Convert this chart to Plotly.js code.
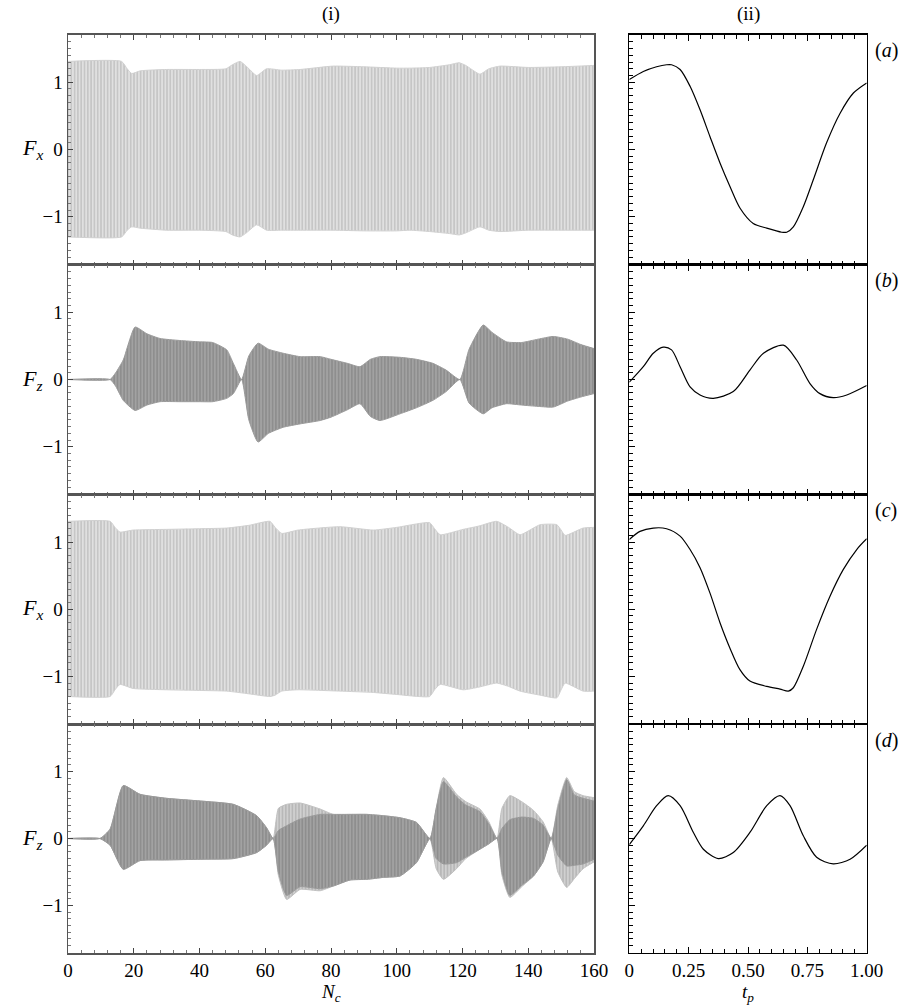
<!DOCTYPE html>
<html>
<head>
<meta charset="utf-8">
<script src="https://cdn.plot.ly/plotly-3.0.1.min.js"></script>
<style>html,body{margin:0;padding:0;background:#fff;}#plot{width:905px;height:1007px;}</style>
</head>
<body>
<div id="plot"></div>
<script>
// ---------- (i) envelopes of the force histories vs N_c ----------
const fx1_N     = [0,16.3,18,19.4,22,30,40,48,50,52.3,54,57.4,60.4,65,70.6,80.6,90,100,104,110,116,119,121,125.3,128,131.4,140,150,160];
const fx1_upper = [1.31,1.31,1.2,1.13,1.17,1.19,1.19,1.2,1.26,1.31,1.25,1.10,1.2,1.18,1.19,1.24,1.23,1.21,1.21,1.22,1.26,1.29,1.25,1.12,1.2,1.24,1.22,1.23,1.25];
const fx1_lower = [-1.30,-1.30,-1.2,-1.15,-1.17,-1.2,-1.2,-1.22,-1.27,-1.3,-1.25,-1.12,-1.2,-1.2,-1.2,-1.2,-1.21,-1.21,-1.2,-1.22,-1.25,-1.27,-1.24,-1.15,-1.2,-1.22,-1.2,-1.2,-1.2];

const fz2_N     = [0,12.8,14.5,16.8,20.4,24,28,34,40,44,48.3,50.3,52.8,55,57.8,61,65.5,70.6,76.7,80,85,88.8,92,94.9,101,106,111,115,119.2,122,126.3,129,133.4,138,143,147.6,152,156,160];
const fz2_upper = [0,0,0.1,0.29,0.78,0.68,0.61,0.58,0.56,0.55,0.44,0.24,0,0.35,0.54,0.45,0.39,0.34,0.34,0.3,0.24,0.19,0.3,0.34,0.33,0.3,0.24,0.14,0,0.45,0.81,0.7,0.56,0.55,0.6,0.64,0.6,0.52,0.46];
const fz2_lower = [0,0,-0.1,-0.31,-0.46,-0.38,-0.33,-0.33,-0.33,-0.33,-0.28,-0.21,0,-0.6,-0.93,-0.8,-0.71,-0.66,-0.61,-0.56,-0.45,-0.36,-0.55,-0.61,-0.51,-0.42,-0.31,-0.18,0,-0.35,-0.51,-0.42,-0.36,-0.38,-0.4,-0.41,-0.32,-0.26,-0.21];

const fx3_N     = [0,12.8,14.3,15.8,19.8,30,40,48.3,55,61.4,63,65,70,82.7,92.9,100,110,111.5,113.2,120.2,125,130.4,134,137.5,143.6,148.7,150,151.2,156.7,160];
const fx3_upper = [1.31,1.31,1.22,1.15,1.18,1.19,1.2,1.21,1.25,1.31,1.22,1.13,1.18,1.23,1.18,1.22,1.29,1.2,1.11,1.19,1.24,1.31,1.22,1.11,1.26,1.26,1.18,1.1,1.21,1.22];
const fx3_lower = [-1.30,-1.30,-1.2,-1.12,-1.18,-1.2,-1.21,-1.22,-1.26,-1.30,-1.28,-1.22,-1.2,-1.22,-1.24,-1.27,-1.30,-1.2,-1.12,-1.2,-1.16,-1.10,-1.15,-1.22,-1.28,-1.32,-1.2,-1.10,-1.22,-1.22];

const fz4_N           = [0,9.7,12.8,16.8,21.9,30,40.2,50.3,57.4,60.4,62.4,64,66.5,70.6,76.7,80.7,85.8,90.9,96,101,106,110.1,112,114.2,118.2,121,125.3,128,130.5,132,134.4,138,141.6,144.5,147,149,151.7,154,156.7,160];
const fz4_upper_inner = [0,0,0.14,0.79,0.66,0.6,0.56,0.51,0.34,0.16,0,0.12,0.19,0.29,0.36,0.36,0.36,0.36,0.34,0.31,0.24,0,0.45,0.85,0.62,0.5,0.4,0.22,0,0.15,0.28,0.32,0.3,0.2,0,0.45,0.88,0.65,0.6,0.56];
const fz4_lower_inner = [0,0,-0.1,-0.46,-0.33,-0.32,-0.31,-0.30,-0.21,-0.1,0,-0.5,-0.85,-0.72,-0.75,-0.71,-0.62,-0.61,-0.58,-0.56,-0.36,0,-0.3,-0.38,-0.36,-0.28,-0.16,-0.08,0,-0.5,-0.85,-0.7,-0.56,-0.35,0,-0.25,-0.41,-0.4,-0.38,-0.31];
const fz4_upper_outer = [0,0,0.14,0.79,0.66,0.6,0.56,0.51,0.34,0.16,0,0.45,0.51,0.53,0.44,0.36,0.36,0.36,0.34,0.31,0.24,0,0.45,0.91,0.66,0.55,0.44,0.25,0,0.45,0.64,0.55,0.42,0.25,0,0.5,0.91,0.7,0.64,0.61];
const fz4_lower_outer = [0,0,-0.1,-0.46,-0.33,-0.32,-0.31,-0.30,-0.21,-0.1,0,-0.55,-0.91,-0.76,-0.78,-0.71,-0.62,-0.61,-0.58,-0.56,-0.36,0,-0.45,-0.61,-0.45,-0.3,-0.16,-0.08,0,-0.55,-0.88,-0.72,-0.56,-0.35,0,-0.5,-0.73,-0.6,-0.45,-0.35];

// ---------- (ii) one period vs t_p ----------
const a_t = [0,0.059,0.115,0.157,0.178,0.214,0.256,0.298,0.34,0.382,0.424,0.466,0.522,0.579,0.642,0.663,0.691,0.733,0.775,0.831,0.888,0.944,1.0];
const a_F = [1.04,1.16,1.23,1.26,1.26,1.19,0.94,0.59,0.19,-0.20,-0.55,-0.87,-1.10,-1.17,-1.23,-1.23,-1.15,-0.85,-0.45,0.10,0.54,0.84,0.99];

const b_t = [0,0.059,0.101,0.143,0.178,0.214,0.256,0.298,0.354,0.438,0.508,0.565,0.649,0.705,0.761,0.803,0.859,0.916,1.0];
const b_F = [-0.04,0.19,0.39,0.48,0.44,0.19,-0.11,-0.23,-0.28,-0.18,0.14,0.39,0.51,0.29,-0.06,-0.21,-0.27,-0.23,-0.09];

const c_t = [0,0.045,0.101,0.157,0.214,0.256,0.298,0.34,0.382,0.424,0.466,0.508,0.579,0.635,0.67,0.691,0.733,0.789,0.845,0.901,0.958,1.0];
const c_F = [1.04,1.16,1.21,1.20,1.09,0.89,0.62,0.24,-0.20,-0.58,-0.90,-1.07,-1.15,-1.19,-1.22,-1.17,-0.85,-0.30,0.19,0.59,0.89,1.05];

const d_t = [0,0.059,0.115,0.164,0.214,0.27,0.312,0.375,0.438,0.508,0.579,0.635,0.677,0.733,0.789,0.859,0.93,1.0];
const d_F = [-0.09,0.19,0.49,0.64,0.49,0.09,-0.16,-0.30,-0.21,0.09,0.49,0.64,0.49,0.04,-0.28,-0.38,-0.31,-0.10];

const leftYLabels = ['<i>F</i><sub><i>x</i></sub>','<i>F</i><sub><i>z</i></sub>','<i>F</i><sub><i>x</i></sub>','<i>F</i><sub><i>z</i></sub>'];
const panelTags = ['(<i>a</i>)','(<i>b</i>)','(<i>c</i>)','(<i>d</i>)'];
const NcTicks = [0,20,40,60,80,100,120,140,160];
const tpTickVals = [0,0.25,0.5,0.75,1.0];
const tpTickText = ['0','0.25','0.50','0.75','1.00'];
const yLabelVals = [-1,0,1];
const yLabelText = ['\u22121','0','1'];

// ---------- styles ----------
const serif = 'Liberation Serif';
const lightPat = {shape:'|', bgcolor:'#c6c6c6', fgcolor:'#f2f2f2', size:3.3, solidity:0.3};
const darkPat  = {shape:'|', bgcolor:'#8e8e8e', fgcolor:'#b0b0b0', size:3.3, solidity:0.3};
const outerPat = {shape:'|', bgcolor:'#b8b8b8', fgcolor:'#dadada', size:3.3, solidity:0.35};

const traces = [];
function band(x, lo, hi, pat, edge, xa, ya) {
  const ln = {color:edge, width:1, shape:'spline', smoothing:0.5};
  traces.push({x:x, y:lo, type:'scatter', mode:'lines', line:ln, xaxis:xa, yaxis:ya, hoverinfo:'skip', showlegend:false});
  traces.push({x:x, y:hi, type:'scatter', mode:'lines', line:ln, fill:'tonexty', fillcolor:pat.bgcolor, fillpattern:pat, xaxis:xa, yaxis:ya, hoverinfo:'skip', showlegend:false});
}
band(fx1_N, fx1_lower, fx1_upper, lightPat, '#d0d0d0', 'x', 'y');
band(fz2_N, fz2_lower, fz2_upper, darkPat, '#9a9a9a', 'x3', 'y3');
band(fx3_N, fx3_lower, fx3_upper, lightPat, '#d0d0d0', 'x5', 'y5');
band(fz4_N, fz4_lower_outer, fz4_upper_outer, outerPat, '#c0c0c0', 'x7', 'y7');
band(fz4_N, fz4_lower_inner, fz4_upper_inner, darkPat, '#9a9a9a', 'x7', 'y7');

const periods = [[a_t,a_F],[b_t,b_F],[c_t,c_F],[d_t,d_F]];
periods.forEach((p,i) => {
  traces.push({x:p[0], y:p[1], type:'scatter', mode:'lines', line:{color:'#000', width:1.2, shape:'spline', smoothing:0.8}, xaxis:'x'+(2*i+2), yaxis:'y'+(2*i+2), hoverinfo:'skip', showlegend:false});
});

// ---------- layout ----------
const W = 905, H = 1007;
const rowsPx = [[34.5,264.5],[264.5,494.5],[494.5,724],[724,953]];
const leftPx = [68, 594], rightPx = [629.3, 866.7];
const layout = {
  width:W, height:H, margin:{l:0,r:0,t:0,b:0},
  paper_bgcolor:'#fff', plot_bgcolor:'#fff', showlegend:false,
  font:{family:serif, size:18, color:'#000'},
  annotations:[]
};
function ydom(r){ return [1 - rowsPx[r][1]/H, 1 - rowsPx[r][0]/H]; }
for (let r=0; r<4; r++) {
  const li = 2*r+1, ri = 2*r+2;
  const lk = li===1 ? '' : String(li);
  const bottom = r===3;
  layout['xaxis'+lk] = {
    domain:[leftPx[0]/W, leftPx[1]/W], range:[0,160], anchor:'y'+lk,
    tickvals:NcTicks, ticktext:NcTicks.map(String), showticklabels:bottom,
    ticks:'inside', ticklen:5, tickcolor:'#444', mirror:'ticks',
    showline:true, linecolor:'#555', linewidth:1.5, showgrid:false, zeroline:false,
    minor:{ticks:'inside', dtick:4, ticklen:3, tickcolor:'#777', showgrid:false},
    tickfont:{family:serif, size:19, color:'#000'}
  };
  layout['yaxis'+lk] = {
    domain:ydom(r), range:[-1.71,1.71], anchor:'x'+lk,
    tickvals:yLabelVals, ticktext:yLabelText,
    ticks:'inside', ticklen:5, tickcolor:'#444', mirror:true,
    showline:true, linecolor:'#555', linewidth:1.5, showgrid:false, zeroline:false,
    minor:{ticks:'inside', dtick:0.1, ticklen:3, tickcolor:'#777', showgrid:false},
    tickfont:{family:serif, size:19, color:'#000'}
  };
  layout['xaxis'+ri] = {
    domain:[rightPx[0]/W, rightPx[1]/W], range:[0,1], anchor:'y'+ri,
    tickvals:tpTickVals, ticktext:tpTickText, showticklabels:bottom,
    ticks:'inside', ticklen:6, tickcolor:'#000', mirror:'ticks',
    showline:true, linecolor:'#000', linewidth:1.2, showgrid:false, zeroline:false,
    minor:{ticks:'inside', dtick:0.05, ticklen:4, tickcolor:'#000', showgrid:false},
    tickfont:{family:serif, size:19, color:'#000'}
  };
  layout['yaxis'+ri] = {
    domain:ydom(r), range:[-1.71,1.71], anchor:'x'+ri,
    tickvals:yLabelVals, showticklabels:false,
    ticks:'inside', ticklen:6, tickcolor:'#000', mirror:true,
    showline:true, linecolor:'#000', linewidth:1.2, showgrid:false, zeroline:false,
    minor:{ticks:'inside', dtick:0.1, ticklen:4, tickcolor:'#000', showgrid:false}
  };
  const zeroPx = (rowsPx[r][0]+rowsPx[r][1])/2;
  layout.annotations.push({xref:'paper', yref:'paper', x:32/W, y:1-zeroPx/H, text:leftYLabels[r], showarrow:false, xanchor:'center', yanchor:'middle', font:{family:serif, size:22}});
  layout.annotations.push({xref:'paper', yref:'paper', x:886/W, y:1-(rowsPx[r][0]+16)/H, text:panelTags[r], showarrow:false, xanchor:'center', yanchor:'middle', font:{family:serif, size:20}});
}
layout.annotations.push({xref:'paper', yref:'paper', x:331/W, y:1-14/H, text:'(i)', showarrow:false, xanchor:'center', yanchor:'middle', font:{family:serif, size:19}});
layout.annotations.push({xref:'paper', yref:'paper', x:748/W, y:1-14/H, text:'(ii)', showarrow:false, xanchor:'center', yanchor:'middle', font:{family:serif, size:19}});
layout.annotations.push({xref:'paper', yref:'paper', x:331/W, y:1-980/H, text:'<i>N</i><sub><i>c</i></sub>', showarrow:false, xanchor:'center', yanchor:'top', borderpad:0, font:{family:serif, size:19}});
layout.annotations.push({xref:'paper', yref:'paper', x:748/W, y:1-980/H, text:'<i>t</i><sub><i>p</i></sub>', showarrow:false, xanchor:'center', yanchor:'top', borderpad:0, font:{family:serif, size:19}});

Plotly.newPlot('plot', traces, layout, {staticPlot:true, displayModeBar:false});
</script>
</body>
</html>
